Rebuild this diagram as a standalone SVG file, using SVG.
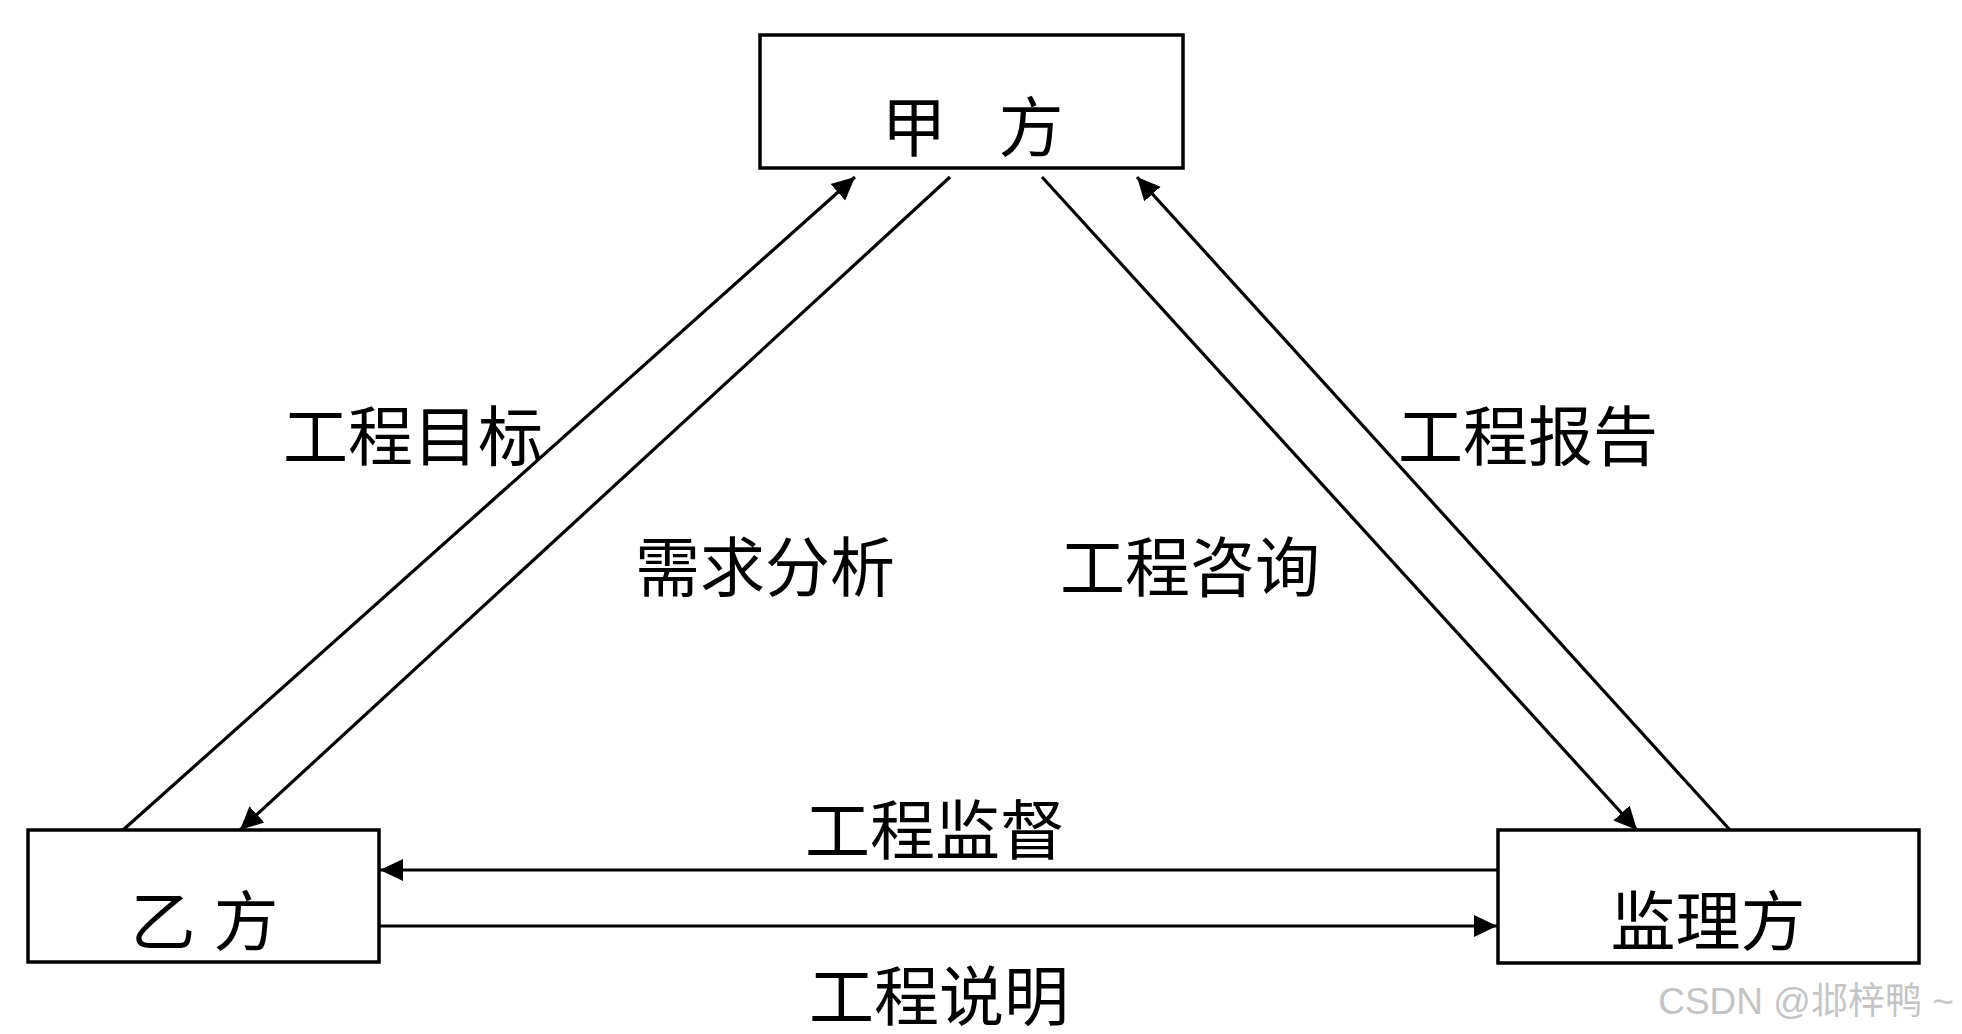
<svg xmlns="http://www.w3.org/2000/svg" width="1962" height="1034" viewBox="0 0 1962 1034">
<style>
.box{fill:#fff;stroke:#000;stroke-width:3.5}
.lbl{font-family:"Noto Sans CJK SC","Noto Sans",sans-serif;font-size:65px;fill:#000;text-anchor:middle;dominant-baseline:central}
.con{stroke:#000;stroke-width:3.2;fill:none;marker-end:url(#ah)}
.wm{font-family:"Liberation Sans","Noto Sans CJK SC",sans-serif;font-size:37px;fill:#c4c4c4;text-anchor:middle;dominant-baseline:central}
</style>
<defs>
<marker id="ah" markerUnits="userSpaceOnUse" markerWidth="24" markerHeight="24" viewBox="0 0 24 24" refX="23" refY="12" orient="auto">
<path d="M0,1 L23,12 L0,23 Z" fill="#000"/>
</marker>
</defs>
<rect width="1962" height="1034" fill="#fff"/>
<g id="connectors">
<line class="con" x1="123" y1="830" x2="855" y2="177"/>
<line class="con" x1="950" y1="177" x2="240" y2="830"/>
<line class="con" x1="1042" y1="177" x2="1637" y2="830"/>
<line class="con" x1="1730" y1="830" x2="1137" y2="177"/>
<line class="con" x1="1498" y1="870" x2="380" y2="870"/>
<line class="con" x1="379" y1="926" x2="1497" y2="926"/>
<text class="lbl" x="413" y="432">工程目标</text>
<text class="lbl" x="1528" y="432">工程报告</text>
<text class="lbl" x="765" y="563">需求分析</text>
<text class="lbl" x="1190" y="563">工程咨询</text>
<text class="lbl" x="935" y="826">工程监督</text>
<text class="lbl" x="939" y="992">工程说明</text>
</g>
<g id="jiafang">
<rect class="box" x="760" y="35" width="423" height="133"/>
<text class="lbl" x="914 972 1031" y="123">甲 方</text>
</g>
<g id="yifang">
<rect class="box" x="28" y="830" width="351" height="132"/>
<text class="lbl" x="163 205 246" y="917">乙 方</text>
</g>
<g id="jianlifang">
<rect class="box" x="1498" y="830" width="421" height="133"/>
<text class="lbl" x="1708" y="917">监理方</text>
</g>
<text class="wm" x="1806" y="1001">CSDN @邶梓鸭 ~</text>
</svg>
